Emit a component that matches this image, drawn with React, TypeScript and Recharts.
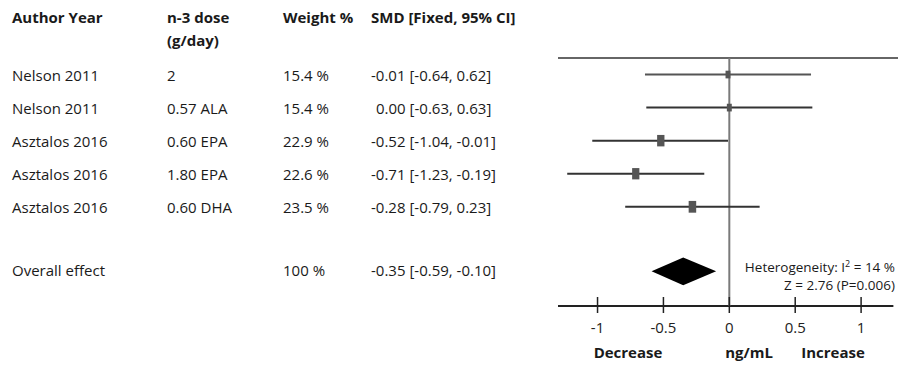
import React from 'react'
import { ComposedChart, Scatter, XAxis, YAxis, ReferenceLine, ReferenceArea } from 'recharts'

const authors = ['Nelson 2011', 'Nelson 2011', 'Asztalos 2016', 'Asztalos 2016', 'Asztalos 2016']
const doses = ['2', '0.57 ALA', '0.60 EPA', '1.80 EPA', '0.60 DHA']
const weights = [15.4, 15.4, 22.9, 22.6, 23.5]
const smd = [-0.01, 0.0, -0.52, -0.71, -0.28]
const lower = [-0.64, -0.63, -1.04, -1.23, -0.79]
const upper = [0.62, 0.63, -0.01, -0.19, 0.23]

const overallLabel = 'Overall effect'
const overallWeight = 100
const overallSmd = -0.35
const overallLower = -0.59
const overallUpper = -0.1

const xTicks = [-1, -0.5, 0, 0.5, 1]

const W = 901
const H = 366
const PLOT_LEFT = 558
const PLOT_TOP = 58
const PLOT_BOTTOM = 306
const Y_MIN = 0.5
const Y_MAX = 8
const OVERALL_ROW = 6.95
const ROW_PX = (PLOT_BOTTOM - PLOT_TOP) / (Y_MAX - Y_MIN)
const FONT = '"Open Sans", sans-serif'

const rows = authors.map((author, i) => ({
  author,
  dose: doses[i],
  weight: weights[i],
  smd: smd[i],
  lo: lower[i],
  hi: upper[i],
  row: i + 1,
}))

const rowTop = (row: number) => PLOT_TOP + (row - Y_MIN) * ROW_PX

const fmt = (v: number) => (v < 0 ? '-' : '') + Math.abs(v).toFixed(2)
const ciText = (est: number, lo: number, hi: number) =>
  `${fmt(est)} [${fmt(lo)}, ${fmt(hi)}]`

const Square = (props: any) => {
  const { cx, cy, payload } = props
  const w = payload.weight * 0.32
  const h = payload.weight * 0.5
  return <rect x={cx - w / 2} y={cy - h / 2} width={w} height={h} fill="#555" />
}

const Diamond = (props: any) => {
  const { x, y, width, height } = props
  const mid = x + (width * (overallSmd - overallLower)) / (overallUpper - overallLower)
  const cy = y + height / 2
  return (
    <polygon
      points={`${x},${cy} ${mid},${y} ${x + width},${cy} ${mid},${y + height}`}
      fill="#000"
    />
  )
}

const AxisTick = (props: any) => {
  const { x, y, payload } = props
  return (
    <g>
      <line x1={x} x2={x} y1={y - 9} y2={y + 7} stroke="#222" strokeWidth={1.5} />
      <text x={x} y={y + 27} textAnchor="middle" fontFamily={FONT} fontSize={15} fill="#222">
        {payload.value}
      </text>
    </g>
  )
}

const cell = (left: number, top: number, bold = false): React.CSSProperties => ({
  position: 'absolute',
  left,
  top,
  fontWeight: bold ? 700 : 400,
  whiteSpace: 'pre',
  lineHeight: '22px',
  transform: 'translateY(-50%)',
})

export default function App() {
  return (
    <div
      style={{
        position: 'absolute',
        left: 0,
        top: 0,
        width: W,
        height: H,
        background: '#fff',
        fontFamily: FONT,
        fontSize: 15,
        color: '#1a1a1a',
      }}
    >
      <ComposedChart
        width={W}
        height={H}
        margin={{ top: PLOT_TOP, right: 3, bottom: 0, left: PLOT_LEFT }}
      >
        <XAxis
          type="number"
          dataKey="smd"
          domain={[-1.3, 1.28]}
          ticks={xTicks}
          allowDataOverflow
          axisLine={false}
          tickLine={false}
          tickSize={0}
          tickMargin={0}
          height={H - PLOT_BOTTOM}
          tick={<AxisTick />}
          interval={0}
        />
        <YAxis type="number" dataKey="row" domain={[Y_MIN, Y_MAX]} reversed hide allowDataOverflow />
        <ReferenceLine y={Y_MIN} stroke="#666" strokeWidth={2} />
        <ReferenceLine
          segment={[
            { x: -1.3, y: Y_MAX },
            { x: 1.245, y: Y_MAX },
          ]}
          stroke="#222"
          strokeWidth={2}
        />
        <ReferenceLine x={0} stroke="#7a7a7a" strokeWidth={2} />
        {rows.map((r) => (
          <ReferenceLine
            key={r.row}
            segment={[
              { x: r.lo, y: r.row },
              { x: r.hi, y: r.row },
            ]}
            stroke={r.row === 1 ? '#555' : '#333'}
            strokeWidth={2}
          />
        ))}
        <ReferenceArea
          x1={overallLower}
          x2={overallUpper}
          y1={OVERALL_ROW - 0.42}
          y2={OVERALL_ROW + 0.42}
          shape={<Diamond />}
        />
        <Scatter data={rows} dataKey="row" shape={<Square />} isAnimationActive={false} />
      </ComposedChart>

      <div style={cell(12, 17, true)}>Author Year</div>
      <div style={cell(167, 17, true)}>n-3 dose</div>
      <div style={cell(167, 40, true)}>(g/day)</div>
      <div style={cell(283, 17, true)}>Weight %</div>
      <div style={cell(371, 17, true)}>SMD [Fixed, 95% CI]</div>

      {rows.map((r) => {
        const t = rowTop(r.row)
        return (
          <React.Fragment key={r.row}>
            <div style={cell(12, t)}>{r.author}</div>
            <div style={cell(167, t)}>{r.dose}</div>
            <div style={cell(283, t)}>{`${r.weight} %`}</div>
            <div style={cell(r.smd < 0 ? 371 : 376, t)}>{ciText(r.smd, r.lo, r.hi)}</div>
          </React.Fragment>
        )
      })}

      <div style={cell(12, rowTop(OVERALL_ROW) - 1)}>{overallLabel}</div>
      <div style={cell(283, rowTop(OVERALL_ROW) - 1)}>{`${overallWeight} %`}</div>
      <div style={cell(371, rowTop(OVERALL_ROW) - 1)}>
        {ciText(overallSmd, overallLower, overallUpper)}
      </div>

      <div
        style={{
          position: 'absolute',
          right: 6,
          top: 258,
          textAlign: 'right',
          fontSize: 13.5,
          lineHeight: '18px',
        }}
      >
        <div>
          Heterogeneity: I<sup style={{ fontSize: 9, lineHeight: 0 }}>2</sup> = 14 %
        </div>
        <div>Z = 2.76 (P=0.006)</div>
      </div>

      <div style={{ ...cell(628, 352, true), transform: 'translate(-50%, -50%)' }}>Decrease</div>
      <div style={{ ...cell(749, 352, true), transform: 'translate(-50%, -50%)' }}>ng/mL</div>
      <div style={{ ...cell(833, 352, true), transform: 'translate(-50%, -50%)' }}>Increase</div>
    </div>
  )
}
